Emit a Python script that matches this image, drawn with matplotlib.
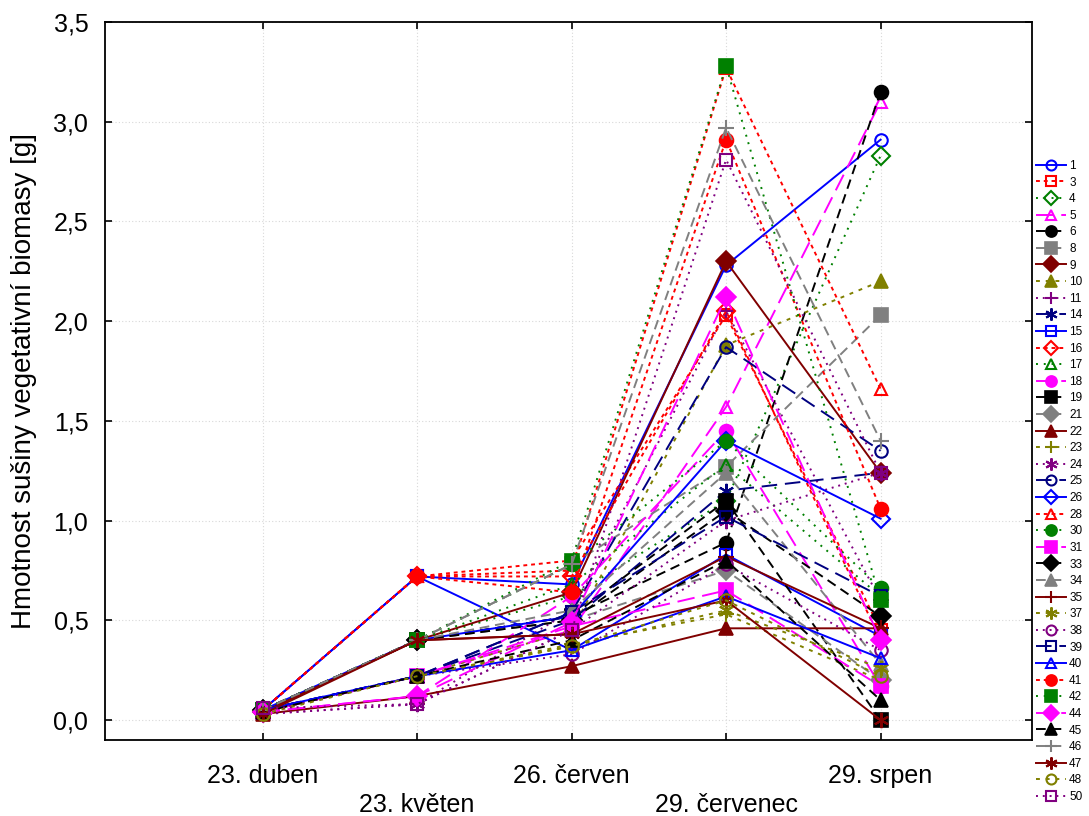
import matplotlib
matplotlib.use('Agg')
import matplotlib.pyplot as plt

dates = ['23. duben', '23. květen', '26. červen', '29. červenec', '29. srpen']

series = ['1', '3', '4', '5', '6', '8', '9', '10', '11', '14',
          '15', '16', '17', '18', '19', '21', '22', '23', '24', '25',
          '26', '28', '30', '31', '33', '34', '35', '37', '38', '39',
          '40', '41', '42', '44', '45', '46', '47', '48', '50']

val_duben = [0.05, 0.05, 0.05, 0.04, 0.05, 0.05, 0.04, 0.04, 0.03, 0.05,
             0.05, 0.05, 0.05, 0.04, 0.05, 0.05, 0.03, 0.04, 0.03, 0.05,
             0.05, 0.05, 0.05, 0.04, 0.05, 0.05, 0.04, 0.04, 0.04, 0.05,
             0.05, 0.05, 0.05, 0.04, 0.04, 0.05, 0.03, 0.03, 0.06]
val_kveten = [0.72, 0.72, 0.40, 0.22, 0.40, 0.40, 0.40, 0.22, 0.08, 0.22,
              0.72, 0.72, 0.40, 0.12, 0.40, 0.40, 0.12, 0.22, 0.08, 0.22,
              0.40, 0.72, 0.40, 0.22, 0.40, 0.40, 0.40, 0.22, 0.22, 0.22,
              0.22, 0.72, 0.40, 0.12, 0.22, 0.40, 0.40, 0.22, 0.08]
val_cerven = [0.68, 0.80, 0.62, 0.45, 0.52, 0.78, 0.64, 0.45, 0.55, 0.50,
              0.35, 0.72, 0.68, 0.62, 0.52, 0.50, 0.27, 0.38, 0.45, 0.54,
              0.52, 0.75, 0.78, 0.47, 0.50, 0.55, 0.43, 0.37, 0.33, 0.54,
              0.35, 0.64, 0.80, 0.49, 0.40, 0.78, 0.43, 0.37, 0.45]
val_cervenec = [2.28, 2.03, 1.10, 1.57, 0.89, 1.27, 2.30, 1.88, 2.05, 1.15,
                0.83, 2.05, 1.28, 1.45, 1.10, 0.75, 0.46, 0.53, 1.00, 1.87,
                1.40, 3.27, 1.40, 0.65, 1.05, 1.24, 0.82, 0.55, 0.78, 1.02,
                0.62, 2.91, 3.28, 2.12, 0.80, 2.97, 0.60, 0.60, 2.81]
val_srpen = [2.91, 0.45, 2.83, 3.10, 3.15, 2.03, 1.24, 2.20, 0.60, 1.24,
             0.42, 0.40, 0.62, 0.17, 0.00, 0.20, 0.46, 0.20, 1.24, 1.35,
             1.01, 1.66, 0.66, 0.17, 0.52, 0.28, 0.46, 0.26, 0.35, 0.62,
             0.31, 1.06, 0.60, 0.40, 0.10, 1.40, 0.00, 0.22, 1.24]

palette = ['#0000FF', '#FF0000', '#008000', '#FF00FF', '#000000',
           '#808080', '#800000', '#808000', '#800080', '#000080']
line_styles = ['-', (0, (2, 2)), (0, (1, 3)), (0, (9, 4)), (0, (5, 3)),
               (0, (5, 3)), '-', (0, (2, 3)), (0, (1, 2.5)), (0, (8, 4))]
ast = (6, 2, 0)
markers = ['o', 's', 'D', '^', 'o', 's', 'D', '^', '+', ast,
           's', 'D', '^', 'o', 's', 'D', '^', '+', ast, 'o',
           'D', '^', 'o', 's', 'D', '^', '+', ast, 'o', 's',
           '^', 'o', 's', 'D', '^', '+', ast, 'o', 's']
filled = [0, 0, 0, 0, 1, 1, 1, 1, 0, 0,
          0, 0, 0, 1, 1, 1, 1, 0, 0, 0,
          0, 0, 1, 1, 1, 1, 0, 0, 0, 0,
          0, 1, 1, 1, 1, 0, 0, 0, 0]

plt.rcParams['font.family'] = ['Liberation Sans', 'DejaVu Sans']

fig = plt.figure(figsize=(10.89, 8.16), dpi=100)
ax = fig.add_axes([105 / 1089, 1 - 740 / 816, (1032 - 105) / 1089, (740 - 22) / 816])

x = list(range(len(dates)))
handles = []
for i, name in enumerate(series):
    col = palette[i % 10]
    ls = line_styles[i % 10]
    m = markers[i]
    ys = [val_duben[i], val_kveten[i], val_cerven[i], val_cervenec[i], val_srpen[i]]
    if m == '+' or m == ast:
        ms, mfc, mew = 11, col, 1.5
    elif filled[i]:
        ms, mfc, mew = 10, col, 1.2
    else:
        ms, mfc, mew = 9, 'none', 1.5
    h, = ax.plot(x, ys, color=col, linestyle=ls, linewidth=1.4,
                 marker=m, markersize=ms, markerfacecolor=mfc,
                 markeredgecolor=col, markeredgewidth=mew, label=name)
    handles.append(h)

ax.set_xlim(-1.02, 4.98)
ax.set_ylim(-0.1, 3.5)
ax.set_yticks([0, 0.5, 1.0, 1.5, 2.0, 2.5, 3.0, 3.5])
ax.set_yticklabels(['0,0', '0,5', '1,0', '1,5', '2,0', '2,5', '3,0', '3,5'], fontsize=18)
ax.set_xticks(x)
xl = [d if j % 2 == 0 else '\n' + d for j, d in enumerate(dates)]
ax.set_xticklabels(xl, fontsize=18, linespacing=1.3)
ax.tick_params(direction='in', top=True, right=True, length=5, width=1.2)
ax.tick_params(axis='x', pad=17)
ax.tick_params(axis='y', pad=12)
ax.grid(True, linestyle=(0, (1, 2)), color='#d8d8d8', linewidth=0.8)
ax.set_axisbelow(True)
for sp in ax.spines.values():
    sp.set_linewidth(1.3)

ax.set_ylabel('Hmotnost sušiny vegetativní biomasy [g]', fontsize=20)
ax.yaxis.set_label_coords(-0.073, 0.5)

fig.legend(handles=handles, loc='upper left', bbox_to_anchor=(1036 / 1089, 1 - 160 / 816),
           frameon=False, fontsize=8.5, handlelength=2.5, handletextpad=0.3,
           labelspacing=0.39, borderpad=0, borderaxespad=0, markerscale=0.8)

fig.savefig('out.png', dpi=100)
